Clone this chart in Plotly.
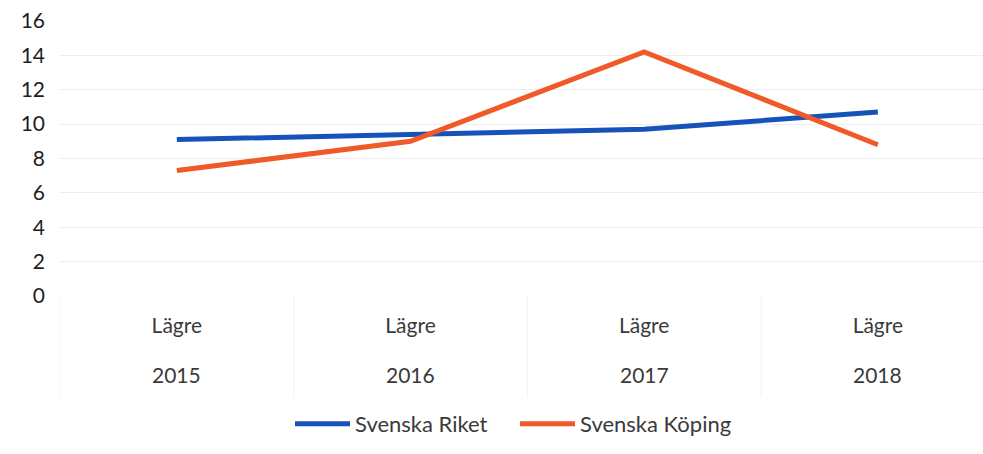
import plotly.graph_objects as go

categories = ["2015", "2016", "2017", "2018"]
level_label = "Lägre"
riket = [9.1, 9.4, 9.7, 10.7]
koping = [7.3, 9.0, 14.2, 8.8]
series_names = ["Svenska Riket", "Svenska Köping"]
y_ticks = [0, 2, 4, 6, 8, 10, 12, 14, 16]

FONT = "Lato, Carlito, Calibri, sans-serif"
BLUE = "#1652b8"
ORANGE = "#f05a28"
TXT = "#3a3a3a"

xs = list(range(len(categories)))

fig = go.Figure()
fig.add_trace(go.Scatter(x=xs, y=riket, mode="lines", name=series_names[0],
                         line=dict(color=BLUE, width=5)))
fig.add_trace(go.Scatter(x=xs, y=koping, mode="lines", name=series_names[1],
                         line=dict(color=ORANGE, width=5)))

# faint category separators in label area
for b in [-0.5, 0.5, 1.5, 2.5]:
    fig.add_shape(type="line", xref="x", yref="paper", x0=b, x1=b, y0=0, y1=-0.37,
                  line=dict(color="#f3f3f3", width=1))

# second level of category labels (years)
for xi, c in zip(xs, categories):
    fig.add_annotation(x=xi, xref="x", y=-0.287, yref="paper", yanchor="middle",
                       text=c, showarrow=False, font=dict(size=21, color=TXT))

fig.update_layout(
    width=983, height=454,
    margin=dict(l=60, r=0, t=21, b=158),
    paper_bgcolor="white", plot_bgcolor="white",
    font=dict(family=FONT, size=21, color=TXT),
    showlegend=True,
    legend=dict(orientation="h", x=(290 - 60) / 923, xanchor="left",
                y=-0.465, yanchor="middle",
                font=dict(size=22, color=TXT), bgcolor="rgba(0,0,0,0)",
                itemwidth=55, entrywidth=155),
    xaxis=dict(range=[-0.5, 3.45], tickmode="array", tickvals=xs,
               ticktext=[level_label] * len(categories),
               showgrid=False, zeroline=False, showline=False, ticks="",
               ticklabelstandoff=15, tickfont=dict(size=21, color=TXT)),
    yaxis=dict(range=[0, 16], tickmode="array", tickvals=y_ticks,
               showgrid=True, gridcolor="#eeeeee", gridwidth=1, zeroline=False,
               showline=False, ticks="", ticklabelstandoff=14,
               tickfont=dict(size=21, color="#1e1e1e")),
)

fig.write_html("out.html", config={"displayModeBar": False},
               post_script="document.body.style.margin='0';document.body.style.padding='0';")
